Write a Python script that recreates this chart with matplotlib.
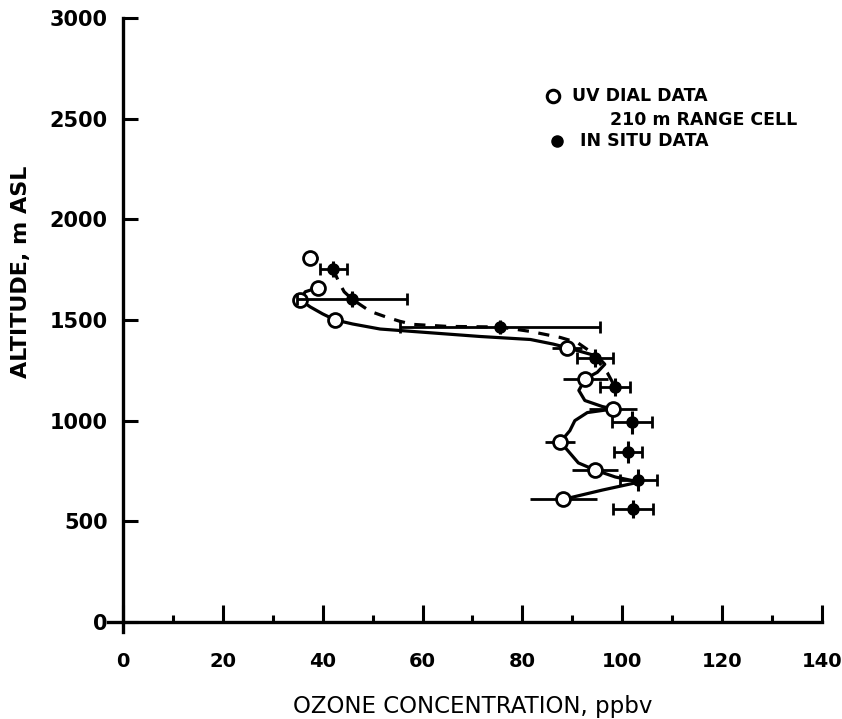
import matplotlib
matplotlib.use("Agg")
import matplotlib.pyplot as plt
from matplotlib.lines import Line2D

# ---- data ----
dial_alt = [1810, 1660, 1600, 1500, 1362, 1208, 1058, 894, 754, 609]
dial_o3 = [37.5, 39.0, 35.5, 42.5, 89.0, 92.6, 98.2, 87.6, 94.6, 88.2]
dial_err = [1.5, 1.5, 0.0, 0.0, 3.0, 4.5, 4.8, 3.0, 4.6, 6.7]

insitu_alt = [1752, 1603, 1465, 1313, 1165, 991, 845, 705, 562]
insitu_o3 = [42.1, 45.9, 75.5, 94.6, 98.6, 102.0, 101.2, 103.2, 102.2]
insitu_err = [2.7, 11.0, 20.0, 3.6, 3.0, 4.0, 2.8, 3.7, 4.0]
insitu_alt_err = [40, 40, 35, 45, 45, 55, 55, 55, 45]

# smoothed profile drawn through the DIAL data (solid)
dial_curve_o3 = [39.0, 36.5, 35.5, 37.5, 40.0, 42.5, 46.0, 51.5, 71.5, 81.6, 86.2, 89.0,
                 95.0, 96.5, 95.0, 92.6, 91.3, 92.5, 96.0, 98.2, 93.0, 90.5, 89.5,
                 87.6, 91.2, 94.6, 98.6, 103.4, 96.0, 88.2]
dial_curve_alt = [1660, 1640, 1600, 1565, 1530, 1500, 1480, 1455, 1418, 1403, 1380, 1362,
                  1320, 1280, 1240, 1208, 1150, 1100, 1070, 1058, 1040, 1000, 950,
                  894, 790, 754, 720, 695, 655, 609]

# profile drawn through the in situ data (dashed)
insitu_curve_o3 = [42.1, 43.2, 44.3, 45.9, 49.5, 52.9, 55.5, 58.1, 65.0, 75.5, 81.6,
                   87.6, 91.0, 93.6, 94.6, 97.0, 98.6]
insitu_curve_alt = [1752, 1690, 1640, 1603, 1543, 1513, 1493, 1478, 1468, 1465, 1443,
                    1413, 1388, 1343, 1313, 1238, 1165]

x_ticks = [0, 20, 40, 60, 80, 100, 120, 140]
y_ticks = [0, 500, 1000, 1500, 2000, 2500, 3000]

# ---- figure ----
W, H = 842, 719
fig = plt.figure(figsize=(W / 100, H / 100), dpi=100)
x0_px, x1_px = 108, 822
y_top_px, y_bot_px = 18, 632
ax = fig.add_axes([x0_px / W, 1 - y_bot_px / H, (x1_px - x0_px) / W, (y_bot_px - y_top_px) / H])
ax.set_xlim(-3, 140)
ax.set_ylim(-50, 3000)

lw = 2.3
ax.plot(dial_curve_o3, dial_curve_alt, '-', color='black', lw=lw, zorder=2)
ax.plot(insitu_curve_o3, insitu_curve_alt, '--', color='black', lw=lw,
        dashes=(3.5, 3.0), zorder=2)

ax.errorbar(dial_o3, dial_alt, xerr=dial_err, fmt='o', mfc='white', mec='black',
            mew=2.0, ms=10, ecolor='black', elinewidth=2.0, capsize=0, zorder=4)
# in situ: horizontal bars with caps, short vertical bars without caps
ax.errorbar(insitu_o3, insitu_alt, yerr=insitu_alt_err, fmt='none',
            ecolor='black', elinewidth=2.2, capsize=0, zorder=5)
ax.errorbar(insitu_o3, insitu_alt, xerr=insitu_err, fmt='o',
            mfc='black', mec='black', ms=8, ecolor='black', elinewidth=2.0,
            capsize=4, capthick=2.0, zorder=5)

# spines / ticks
for s in ['top', 'right']:
    ax.spines[s].set_visible(False)
ax.spines['left'].set_position(('data', 0))
ax.spines['bottom'].set_position(('data', 0))
ax.spines['left'].set_linewidth(2.4)
ax.spines['bottom'].set_linewidth(2.4)

ax.set_xticks(x_ticks)
ax.set_xticks([10, 30, 50, 70, 90, 110, 130], minor=True)
ax.set_yticks(y_ticks)
ax.tick_params(axis='x', which='major', direction='in', length=12, width=2.2, pad=22)
ax.tick_params(axis='x', which='minor', direction='in', length=5, width=2.2)
ax.tick_params(axis='y', which='major', direction='in', length=11, width=2.2, pad=11)

for lab in ax.get_xticklabels():
    lab.set_fontfamily('DejaVu Sans')
    lab.set_fontweight('bold')
    lab.set_fontsize(14)
for lab in ax.get_yticklabels():
    lab.set_fontfamily('DejaVu Sans')
    lab.set_fontweight('bold')
    lab.set_fontsize(15)

# axis titles
fig.text(21 / W, 1 - 272 / H, 'ALTITUDE, m ASL', rotation=90, ha='center', va='center',
         fontsize=16, fontweight='bold', family='DejaVu Sans')
fig.text(473 / W, 1 - 706 / H, 'OZONE CONCENTRATION, ppbv', ha='center', va='center',
         fontsize=16.5, family='DejaVu Sans')

# legend
fig.add_artist(Line2D([553 / W], [1 - 96 / H], marker='o', ms=9, mfc='white', mec='black',
                      mew=2.2, transform=fig.transFigure))
fig.add_artist(Line2D([557 / W], [1 - 141 / H], marker='o', ms=8, mfc='black', mec='black',
                      transform=fig.transFigure))
fig.text(572 / W, 1 - 96 / H, 'UV DIAL DATA', ha='left', va='center', fontsize=12.5,
         fontweight='bold', family='DejaVu Sans')
fig.text(610 / W, 1 - 120 / H, '210 m RANGE CELL', ha='left', va='center', fontsize=12.5,
         fontweight='bold', family='DejaVu Sans')
fig.text(580 / W, 1 - 141 / H, 'IN SITU DATA', ha='left', va='center', fontsize=12.5,
         fontweight='bold', family='DejaVu Sans')

fig.savefig('out.png', dpi=100, facecolor='white')
